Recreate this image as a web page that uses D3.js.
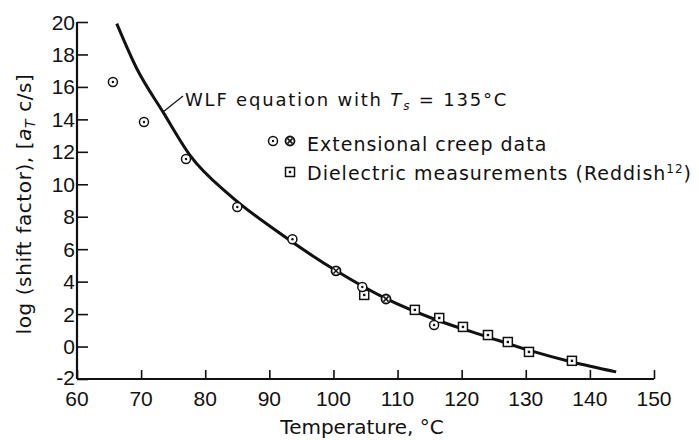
<!DOCTYPE html>
<html>
<head>
<meta charset="utf-8">
<script src="https://cdn.jsdelivr.net/npm/d3@7"></script>
<style>
  body { margin: 0; background: #fff; }
  svg text { font-family: "DejaVu Sans", sans-serif; fill: #111; }
  svg text.tick-label { font-family: "Liberation Sans", Arial, sans-serif; }
</style>
</head>
<body>
<div id="chart"></div>
<script>
// Data
const xTicks = [60, 70, 80, 90, 100, 110, 120, 130, 140, 150];
const yTicks = [-2, 0, 2, 4, 6, 8, 10, 12, 14, 16, 18, 20];

// WLF curve (traced)
const wlfT   = [66.2, 69.3, 73.5, 77.6, 83.9, 91.2, 100.5, 108.2, 116, 124, 130.7, 137.2, 144.1];
const wlfLog = [19.9, 17.15, 14.4, 11.8, 9.3, 7.1, 4.65, 2.95, 1.65, 0.6, -0.25, -0.95, -1.56];

// extensional creep data, open circles
const creepT   = [65.6, 70.45, 77.0, 85.0, 93.6, 104.5, 115.7];
const creepLog = [16.3, 13.84, 11.56, 8.6, 6.61, 3.67, 1.33];

// extensional creep data, crossed circles
const creepXT   = [100.4, 108.2];
const creepXLog = [4.66, 2.93];

// dielectric measurements (Reddish)
const dielT   = [104.8, 112.7, 116.5, 120.2, 124.1, 127.2, 130.5, 137.2];
const dielLog = [3.18, 2.26, 1.76, 1.21, 0.71, 0.28, -0.33, -0.88];

const width = 699, height = 440;
const margin = { left: 77, right: 45, top: 22, bottom: 61 };

const svg = d3.select("#chart").append("svg")
    .attr("width", width)
    .attr("height", height);

const x = d3.scaleLinear().domain([60, 150]).range([margin.left, width - margin.right]);
const y = d3.scaleLinear().domain([-2, 20]).range([height - margin.bottom, margin.top]);

// axes, ticks pointing inward
const xAxis = svg.append("g")
    .attr("transform", `translate(0,${y(-2)})`)
    .call(d3.axisTop(x).tickValues(xTicks).tickSize(9).tickFormat(""));
const yAxis = svg.append("g")
    .attr("transform", `translate(${x(60)},0)`)
    .call(d3.axisRight(y).tickValues(yTicks).tickSize(11).tickFormat(""));

[xAxis, yAxis].forEach(g => {
    g.select(".domain").attr("stroke", "#111").attr("stroke-width", 2.2);
    g.selectAll(".tick line").attr("stroke", "#111").attr("stroke-width", 1.6);
});
// plain axis lines without the outer ticks
xAxis.select(".domain").attr("d", `M${x(60)},0H${x(150)}`);
yAxis.select(".domain").attr("d", `M0,${y(20)}V${y(-2)}`);

// tick labels
svg.append("g").selectAll("text")
    .data(xTicks)
    .join("text")
    .attr("class", "tick-label")
    .attr("x", d => x(d))
    .attr("y", y(-2) + 27)
    .attr("text-anchor", "middle")
    .attr("font-size", 21)
    .text(d => d);

svg.append("g").selectAll("text")
    .data(yTicks)
    .join("text")
    .attr("class", "tick-label")
    .attr("x", x(60) - 2)
    .attr("y", d => y(d) + (d === -2 ? 5.5 : 7.5))
    .attr("text-anchor", "end")
    .attr("font-size", 21)
    .text(d => d);

// axis titles
svg.append("text")
    .attr("x", 362)
    .attr("y", 434)
    .attr("text-anchor", "middle")
    .attr("font-size", 20)
    .text("Temperature, °C");

const yTitle = svg.append("text")
    .attr("transform", "translate(31,204) rotate(-90)")
    .attr("text-anchor", "middle")
    .attr("font-size", 20)
    .attr("letter-spacing", 0.6);
yTitle.append("tspan").text("log (shift factor), [");
yTitle.append("tspan").attr("font-style", "italic").text("a");
yTitle.append("tspan").attr("font-style", "italic").attr("font-size", 14).attr("dy", 4).text("T");
yTitle.append("tspan").attr("dy", -4).text(" c/s]");

// WLF curve
const curve = wlfT.map((t, i) => [t, wlfLog[i]]);
svg.append("path")
    .datum(curve)
    .attr("fill", "none")
    .attr("stroke", "#111")
    .attr("stroke-width", 3)
    .attr("d", d3.line()
        .x(d => x(d[0]))
        .y(d => y(d[1]))
        .curve(d3.curveMonotoneX));

// markers
function circleMark(g) {
    g.append("circle").attr("r", 4.5).attr("fill", "#fff").attr("stroke", "#111").attr("stroke-width", 1.5);
    g.append("circle").attr("r", 1.2).attr("fill", "#111");
}
function crossMark(g) {
    g.append("circle").attr("r", 4.5).attr("fill", "#fff").attr("stroke", "#111").attr("stroke-width", 1.8);
    g.append("path").attr("d", "M-2.6,-2.6L2.6,2.6M-2.6,2.6L2.6,-2.6").attr("stroke", "#111").attr("stroke-width", 1.5);
}
function squareMark(g) {
    g.append("rect").attr("x", -4.5).attr("y", -4.5).attr("width", 9).attr("height", 9)
        .attr("fill", "#fff").attr("stroke", "#111").attr("stroke-width", 1.5);
    g.append("rect").attr("x", -1.2).attr("y", -1.2).attr("width", 2.4).attr("height", 2.4).attr("fill", "#111");
}

function drawPoints(ts, vals, mark) {
    svg.append("g").selectAll("g")
        .data(ts.map((t, i) => [t, vals[i]]))
        .join("g")
        .attr("transform", d => `translate(${x(d[0])},${y(d[1])})`)
        .each(function() { mark(d3.select(this)); });
}
drawPoints(dielT, dielLog, squareMark);
drawPoints(creepT, creepLog, circleMark);
drawPoints(creepXT, creepXLog, crossMark);

// WLF annotation
svg.append("line")
    .attr("x1", 163).attr("y1", 112)
    .attr("x2", 183).attr("y2", 96)
    .attr("stroke", "#111").attr("stroke-width", 1.3);
const wlf = svg.append("text")
    .attr("x", 185)
    .attr("y", 106)
    .attr("font-size", 18)
    .attr("letter-spacing", 1.8);
wlf.append("tspan").text("WLF equation with ");
wlf.append("tspan").attr("font-style", "italic").text("T");
wlf.append("tspan").attr("font-style", "italic").attr("font-size", 12).attr("dy", 4).text("s");
wlf.append("tspan").attr("dy", -4).text(" = 135°C");

// legend
const leg1 = svg.append("g");
circleMark(leg1.append("g").attr("transform", "translate(273,141)"));
crossMark(leg1.append("g").attr("transform", "translate(290,141)"));
leg1.append("text").attr("x", 307).attr("y", 151)
    .attr("font-size", 19).attr("letter-spacing", 1).text("Extensional creep data");

const leg2 = svg.append("g");
squareMark(leg2.append("g").attr("transform", "translate(290,172)"));
const t2 = leg2.append("text").attr("x", 307).attr("y", 180)
    .attr("font-size", 19).attr("letter-spacing", 1);
t2.append("tspan").text("Dielectric measurements (Reddish");
t2.append("tspan").attr("font-size", 12).attr("dy", -7).text("12");
t2.append("tspan").attr("dy", 7).text(")");
</script>
</body>
</html>
